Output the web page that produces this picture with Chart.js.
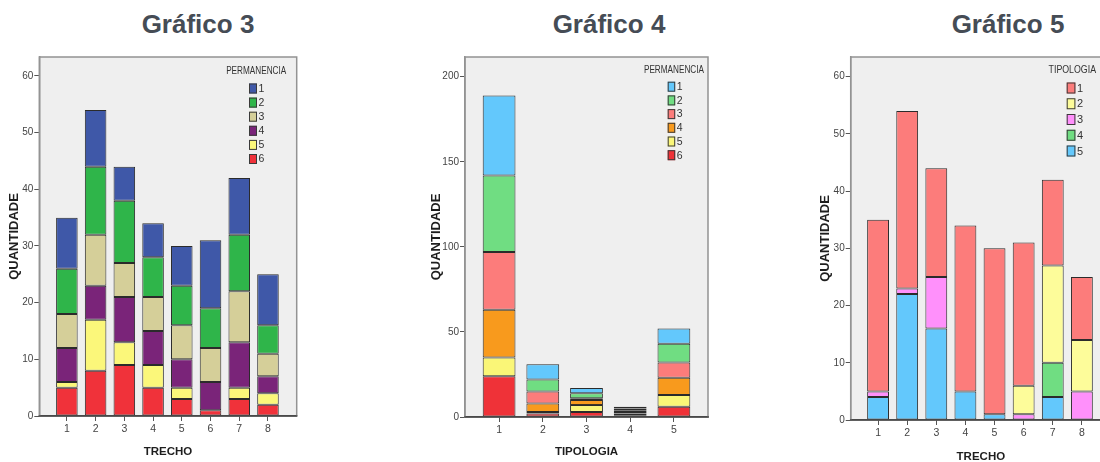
<!DOCTYPE html>
<html lang="pt">
<head>
<meta charset="utf-8">
<title>Gráficos 3, 4 e 5</title>
<script src="https://cdn.jsdelivr.net/npm/chart.js@4.4.1/dist/chart.umd.min.js"></script>
<style>
  html, body { margin: 0; padding: 0; width: 1100px; height: 462px; overflow: hidden; background: #fff; }
  .titulo {
    position: absolute; top: 11px; width: 200px; text-align: center;
    font: bold 26px/26px "Liberation Sans", Arial, sans-serif; color: #454c55;
  }
  canvas { position: absolute; top: 0; }
</style>
</head>
<body>
<div class="titulo" style="left:98px">Gráfico 3</div>
<div class="titulo" style="left:509px">Gráfico 4</div>
<div class="titulo" style="left:908px">Gráfico 5</div>
<canvas id="g3" width="330" height="462" style="left:0px"></canvas>
<canvas id="g4" width="330" height="462" style="left:400px"></canvas>
<canvas id="g5" width="330" height="470" style="left:800px"></canvas>
<script>
// ---- Gráfico 3: QUANTIDADE por TRECHO, empilhado por PERMANENCIA ----
const trechos = ['1', '2', '3', '4', '5', '6', '7', '8'];
const permanencias = ['1', '2', '3', '4', '5', '6'];
const g3Perm1 = [9, 10, 6, 6, 7, 12, 10, 9];
const g3Perm2 = [8, 12, 11, 7, 7, 7, 10, 5];
const g3Perm3 = [6, 9, 6, 6, 6, 6, 9, 4];
const g3Perm4 = [6, 6, 8, 6, 5, 5, 8, 3];
const g3Perm5 = [1, 9, 4, 4, 2, 0, 2, 2];
const g3Perm6 = [5, 8, 9, 5, 3, 1, 3, 2];
const g3YTicks = [0, 10, 20, 30, 40, 50, 60];

// ---- Gráfico 4: QUANTIDADE por TIPOLOGIA, empilhado por PERMANENCIA ----
const tipologias = ['1', '2', '3', '4', '5'];
const g4Perm1 = [47, 9, 3, 1, 9];
const g4Perm2 = [45, 7, 3, 1, 11];
const g4Perm3 = [34, 7, 1, 1, 9];
const g4Perm4 = [28, 5, 3, 1, 10];
const g4Perm5 = [11, 1, 4, 1, 7];
const g4Perm6 = [24, 2, 3, 1, 6];
const g4YTicks = [0, 50, 100, 150, 200];

// ---- Gráfico 5: QUANTIDADE por TRECHO, empilhado por TIPOLOGIA ----
const g5Tip1 = [30, 31, 19, 29, 29, 25, 15, 11];
const g5Tip2 = [0, 0, 0, 0, 0, 5, 17, 9];
const g5Tip3 = [1, 1, 9, 0, 0, 1, 0, 5];
const g5Tip4 = [0, 0, 0, 0, 0, 0, 6, 0];
const g5Tip5 = [4, 22, 16, 5, 1, 0, 4, 0];
const g5YTicks = [0, 10, 20, 30, 40, 50, 60];

// Palettes (one colour per series, in legend order)
const permColorsA = ['#3f58a8', '#2fb54a', '#d5cf99', '#7a2479', '#fbf77a', '#f0323a'];
const permColorsB = ['#63c8fc', '#70dd82', '#fc7c7b', '#f89a1d', '#faf677', '#ef3238'];
const tipColors   = ['#fc7c7b', '#fdfc9a', '#ff90fb', '#70dd82', '#63c8fc'];

const NARROW = '"Liberation Sans Narrow", "Arial Narrow", "Liberation Sans", Arial, sans-serif';
const REGULAR = '"Liberation Sans", Arial, sans-serif';

// Grey plotting frame behind the bars, dark baseline in front
const framePlugin = {
  id: 'frame',
  beforeDraw(chart) {
    const { ctx, chartArea: a } = chart;
    ctx.save();
    ctx.fillStyle = '#efefef';
    ctx.fillRect(a.left, a.top, a.right - a.left, a.bottom - a.top);
    ctx.restore();
  },
  afterDatasetsDraw(chart) {
    const { ctx, chartArea: a } = chart;
    ctx.save();
    ctx.strokeStyle = '#939393';
    ctx.lineWidth = 1.5;
    ctx.beginPath();
    ctx.moveTo(a.left, a.bottom);
    ctx.lineTo(a.left, a.top);
    ctx.lineTo(a.right, a.top);
    ctx.lineTo(a.right, a.bottom);
    ctx.stroke();
    ctx.strokeStyle = '#4a4a4a';
    ctx.beginPath();
    ctx.moveTo(a.left - 0.75, a.bottom);
    ctx.lineTo(a.right + 0.75, a.bottom);
    ctx.stroke();
    ctx.restore();
  }
};

// Legend block in the upper-right corner of the frame: title, then one swatch per series
const cornerLegend = {
  id: 'cornerLegend',
  afterDraw(chart, args, o) {
    const { ctx, chartArea: a } = chart;
    const items = chart.data.datasets.slice().reverse();
    ctx.save();
    ctx.font = o.fontSize + 'px ' + NARROW;
    ctx.textBaseline = 'middle';
    ctx.fillStyle = '#333';
    // condensed heading, right-aligned against the frame
    const tx = a.right - o.titleRight;
    ctx.save();
    ctx.translate(tx, o.titleY);
    ctx.scale(o.squeeze, 1);
    ctx.textAlign = 'right';
    ctx.fillText(o.title, 0, 0);
    ctx.restore();
    ctx.textAlign = 'left';
    const bx = a.right - o.boxRight;
    items.forEach((d, i) => {
      const cy = o.firstY + i * o.rowGap;
      ctx.fillStyle = d.backgroundColor;
      ctx.fillRect(bx, cy - o.boxH / 2, o.boxW, o.boxH);
      ctx.strokeStyle = '#3a3a3a';
      ctx.lineWidth = 1;
      ctx.strokeRect(bx + 0.5, cy - o.boxH / 2 + 0.5, o.boxW - 1, o.boxH - 1);
      ctx.fillStyle = '#333';
      ctx.fillText(d.label, bx + o.boxW + 1.5, cy + 0.5);
    });
    ctx.restore();
  }
};

function makeStackedChart(id, cats, names, seriesList, colors, yTicks, s) {
  // series are listed top-to-bottom in the legend; stacking starts with the last one
  const datasets = seriesList.map((vals, i) => ({
    label: names[i],
    data: vals,
    backgroundColor: colors[i],
    borderColor: '#2b2b2b',
    borderWidth: 1,
    borderSkipped: false,
    categoryPercentage: 1,
    barPercentage: 0.75
  })).reverse();

  return new Chart(document.getElementById(id), {
    type: 'bar',
    data: { labels: cats, datasets },
    plugins: [framePlugin, cornerLegend],
    options: {
      responsive: false,
      animation: false,
      layout: { padding: { top: s.top, right: s.padRight, left: 0, bottom: 0 } },
      plugins: {
        legend: { display: false },
        tooltip: { enabled: false },
        cornerLegend: s.legend
      },
      scales: {
        x: {
          type: 'linear',
          stacked: true,
          offset: false,
          min: s.xMin,
          max: s.xMax,
          afterBuildTicks: (sc) => { sc.ticks = cats.map(c => ({ value: +c })); },
          afterFit: (sc) => { sc.height = s.xHeight; },
          grid: { display: true, offset: false, drawOnChartArea: false, drawTicks: true, tickLength: 5, tickColor: '#555', tickWidth: 1 },
          border: { display: true, color: '#4a4a4a', width: 1.5 },
          ticks: { font: { family: NARROW, size: 10.5 }, color: '#444', padding: 2, maxRotation: 0 },
          title: {
            display: true, text: s.xTitle, color: '#1e1e1e',
            font: { family: NARROW, size: 11.5, weight: 'bold', lineHeight: 1.2 },
            padding: { top: 0, bottom: s.xTitlePad }
          }
        },
        y: {
          type: 'linear',
          stacked: true,
          min: 0,
          max: s.yMax,
          afterBuildTicks: (sc) => { sc.ticks = yTicks.map(v => ({ value: v })); },
          afterFit: (sc) => { sc.width = s.yWidth; },
          grid: { display: true, drawOnChartArea: false, drawTicks: true, tickLength: 5, tickColor: '#555', tickWidth: 1 },
          border: { display: true, color: '#939393', width: 1.5 },
          ticks: { font: { family: NARROW, size: 10 }, color: '#444', padding: 1 },
          title: {
            display: true, text: 'QUANTIDADE', color: '#1e1e1e',
            font: { family: REGULAR, size: 13, weight: 'bold', lineHeight: 1.2 },
            padding: { top: s.yTitlePad, bottom: 0 }
          }
        }
      }
    }
  });
}

makeStackedChart('g3', trechos, permanencias,
  [g3Perm1, g3Perm2, g3Perm3, g3Perm4, g3Perm5, g3Perm6], permColorsA, g3YTicks, {
    top: 57, padRight: 33.3, yWidth: 39.3, xHeight: 46,
    xMin: 0.04, xMax: 9, yMax: 63.35,
    xTitle: 'TRECHO', xTitlePad: 3.2, yTitlePad: 6.7,
    legend: { title: 'PERMANENCIA', fontSize: 10.5, squeeze: 0.78, titleRight: 10.5, titleY: 71,
              boxRight: 47.7, boxW: 8, boxH: 10, firstY: 88.5, rowGap: 14.1 }
  });

makeStackedChart('g4', tipologias, permanencias,
  [g4Perm1, g4Perm2, g4Perm3, g4Perm4, g4Perm5, g4Perm6], permColorsB, g4YTicks, {
    top: 57, padRight: 22, yWidth: 65, xHeight: 45,
    xMin: 0.22, xMax: 5.78, yMax: 211.6,
    xTitle: 'TIPOLOGIA', xTitlePad: 2.8, yTitlePad: 28.2,
    legend: { title: 'PERMANENCIA', fontSize: 10.5, squeeze: 0.78, titleRight: 4, titleY: 70.5,
              boxRight: 40.3, boxW: 7.5, boxH: 10, firstY: 86.7, rowGap: 13.7 }
  });

makeStackedChart('g5', trechos, ['1', '2', '3', '4', '5'],
  [g5Tip1, g5Tip2, g5Tip3, g5Tip4, g5Tip5], tipColors, g5YTicks, {
    top: 57, padRight: 19, yWidth: 50.7, xHeight: 50,
    xMin: 0.06, xMax: 9, yMax: 63.44,
    xTitle: 'TRECHO', xTitlePad: 6.2, yTitlePad: 17.9,
    legend: { title: 'TIPOLOGIA', fontSize: 11, squeeze: 0.8, titleRight: 15, titleY: 70,
              boxRight: 44.3, boxW: 8.7, boxH: 11, firstY: 88, rowGap: 15.75 }
  });
</script>
</body>
</html>
